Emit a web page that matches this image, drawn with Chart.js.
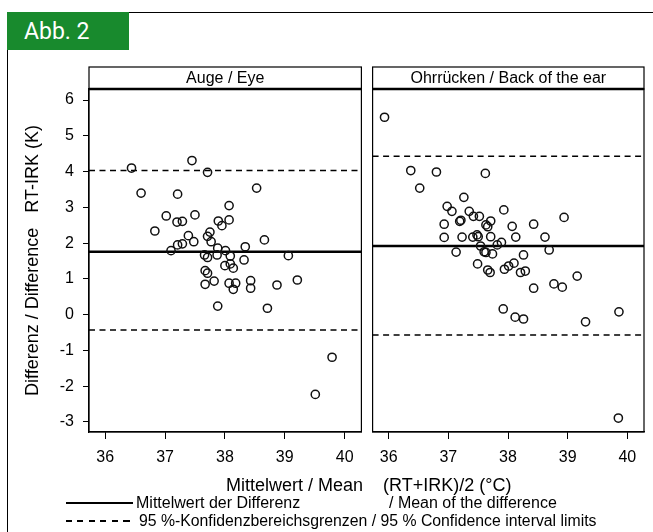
<!DOCTYPE html>
<html><head><meta charset="utf-8">
<script src="https://cdn.jsdelivr.net/npm/chart.js@4.4.1/dist/chart.umd.min.js"></script>
<style>
html,body{margin:0;padding:0;background:#fff;}
body{width:653px;height:532px;position:relative;overflow:hidden;font-family:"Liberation Sans",Arial,sans-serif;color:#000;}
.frame-top{position:absolute;left:7px;top:12px;width:646px;height:0;border-top:1px solid #000;}
.frame-left{position:absolute;left:7px;top:12px;width:0;height:520px;border-left:1px solid #000;}
.badge{position:absolute;left:7px;top:12px;width:122px;height:38px;background:#188a2d;color:#fff;font-family:Roboto,"Open Sans",sans-serif;font-size:23px;line-height:39px;padding-left:17px;box-sizing:border-box;}
canvas{position:absolute;top:0;}
#c1{left:0;}
#c2{left:367px;}
.txt{position:absolute;white-space:pre;line-height:18px;}
.xtitle{left:226px;top:475px;font-size:18px;line-height:21px;}
.lg{font-size:16px;}
.lg2{font-size:15.8px;}
.solid{position:absolute;left:66px;width:67px;height:2px;background:#000;}
.dash{position:absolute;left:66px;width:67px;height:1.5px;background:repeating-linear-gradient(to right,#000 0 6px,transparent 6px 11.5px);}
</style></head>
<body>
<div class="frame-top"></div><div class="frame-left"></div>
<div class="badge">Abb. 2</div>
<canvas id="c1" width="367" height="480"></canvas>
<canvas id="c2" width="286" height="480"></canvas>
<div class="txt xtitle">Mittelwert / Mean    (RT+IRK)/2 (°C)</div>
<div class="solid" style="top:502px"></div>
<div class="txt lg" style="left:136px;top:494px">Mittelwert der Differenz</div>
<div class="txt lg" style="left:389px;top:494px">/ Mean of the difference</div>
<div class="dash" style="top:520px"></div>
<div class="txt lg2" style="left:139px;top:512px">95 %-Konfidenzbereichsgrenzen / 95 % Confidence interval limits</div>
<script>
const yTicks=[-3,-2,-1,0,1,2,3,4,5,6];
const xTicks=[36,37,38,39,40];
const xBounds=[35.73,40.28];
const yBounds=[-3.28,6.31];
const panelTitles=['Auge / Eye','Ohrrücken / Back of the ear'];
const yTitle='Differenz / Difference   RT-IRK (K)';

const eyeX=[36.44,37.45,37.71,36.60,37.21,38.53,38.07,37.02,37.50,37.20,37.29,37.89,38.07,37.95,36.83,37.75,37.71,37.39,37.48,37.77,38.66,37.21,37.29,37.10,38.34,37.88,38.01,37.66,37.71,37.87,38.09,38.32,39.06,38.00,38.09,38.14,37.67,37.71,37.82,37.67,38.07,38.18,38.14,38.43,38.43,38.87,39.21,37.88,38.71,39.79,39.51];
const eyeY=[4.10,4.31,3.98,3.40,3.37,3.54,3.05,2.76,2.79,2.59,2.61,2.62,2.65,2.49,2.34,2.31,2.19,2.21,2.04,2.04,2.09,1.95,1.98,1.79,1.90,1.86,1.79,1.67,1.60,1.67,1.64,1.53,1.65,1.37,1.42,1.30,1.23,1.16,0.94,0.85,0.88,0.88,0.71,0.95,0.74,0.83,0.97,0.24,0.18,-1.19,-2.23];
const earX=[35.93,36.37,36.80,37.62,36.52,37.26,36.98,37.06,37.35,37.93,37.42,37.52,37.19,37.21,37.71,37.63,37.66,36.93,38.07,38.43,38.94,36.93,37.23,37.41,37.48,37.50,37.71,38.13,38.62,37.89,37.82,37.54,37.60,37.63,37.74,37.13,38.69,38.26,37.49,37.66,37.70,37.94,38.01,38.10,38.21,38.29,38.43,38.77,38.91,39.16,37.92,38.12,38.26,39.30,39.86,39.85];
const earY=[5.52,4.03,3.99,3.95,3.54,3.28,3.03,2.89,2.89,2.93,2.75,2.75,2.61,2.64,2.62,2.51,2.46,2.53,2.47,2.53,2.72,2.16,2.17,2.17,2.23,2.18,2.18,2.17,2.17,2.02,1.95,1.92,1.76,1.74,1.70,1.75,1.81,1.67,1.42,1.25,1.18,1.27,1.36,1.44,1.18,1.22,0.74,0.86,0.77,1.08,0.16,-0.07,-0.12,-0.20,0.08,-2.89];
// mean difference, upper 95% limit, lower 95% limit
const eyeLines=[1.76,4.03,-0.43];
const earLines=[1.92,4.43,-0.57];

const FONT='"Liberation Sans", Arial, sans-serif';
const framePlugin={id:'frame',afterDraw(chart){
  const {ctx,chartArea:a}=chart;
  ctx.save();
  ctx.strokeStyle='#000';
  ctx.lineWidth=1.2;
  ctx.strokeRect(a.left,a.top,a.right-a.left,a.bottom-a.top);
  ctx.strokeRect(a.left,a.top-22,a.right-a.left,22);
  ctx.lineWidth=2.6;
  ctx.beginPath();ctx.moveTo(a.left,a.top);ctx.lineTo(a.right,a.top);ctx.stroke();
  ctx.restore();
}};

function hline(v,dashed){
  return {type:'line',data:[{x:xBounds[0],y:v},{x:xBounds[1],y:v}],
    borderColor:'#000',borderWidth:dashed?1.5:2.4,borderDash:dashed?[6,4.5]:[],
    pointRadius:0,fill:false,order:2};
}
function noPad(s){s.paddingLeft=0;s.paddingRight=0;s.paddingTop=0;s.paddingBottom=0;}

function makeChart(id,title,xs,ys,lines,showY,padL,padR){
  const pts=xs.map((x,i)=>({x:x,y:ys[i]}));
  return new Chart(document.getElementById(id),{
    data:{datasets:[
      {type:'scatter',data:pts,pointStyle:'circle',pointRadius:4.1,pointBorderWidth:1.5,
       borderColor:'#111',backgroundColor:'rgba(0,0,0,0)',pointBackgroundColor:'rgba(0,0,0,0)',order:1},
      hline(lines[0],false),hline(lines[1],true),hline(lines[2],true)
    ]},
    options:{responsive:false,animation:false,devicePixelRatio:1,
      layout:{padding:{top:67,left:padL,right:padR,bottom:0}},
      plugins:{legend:{display:false},tooltip:{enabled:false},
        title:{display:true,text:title,fullSize:false,color:'#000',padding:{top:2,bottom:0.8},
          font:{family:FONT,size:16,weight:'normal',lineHeight:1.2}}},
      scales:{
        x:{type:'linear',min:xBounds[0],max:xBounds[1],
          afterBuildTicks(s){s.ticks=xTicks.map(v=>({value:v}));},
          afterFit(s){s.height=48;noPad(s);},
          grid:{display:true,drawOnChartArea:false,drawTicks:true,tickLength:7,color:'#000',lineWidth:1},
          border:{display:true,color:'#000',width:1.2},
          ticks:{color:'#000',padding:9,maxRotation:0,autoSkip:false,font:{family:FONT,size:16}}},
        y:{type:'linear',display:showY,min:yBounds[0],max:yBounds[1],
          afterBuildTicks(s){s.ticks=yTicks.map(v=>({value:v}));},
          afterFit(s){s.width=showY?89:0;noPad(s);},
          grid:{display:true,drawOnChartArea:false,drawTicks:true,tickLength:6,color:'#000',lineWidth:1},
          border:{display:true,color:'#000',width:1.2},
          ticks:{color:'#000',padding:9,autoSkip:false,font:{family:FONT,size:16}},
          title:{display:true,text:yTitle,color:'#000',padding:{top:22,bottom:0},font:{family:FONT,size:18}}}
      }},
    plugins:[framePlugin]
  });
}
makeChart('c1',panelTitles[0],eyeX,eyeY,eyeLines,true,0,2);
makeChart('c2',panelTitles[1],earX,earY,earLines,false,2,9);
</script>
</body></html>
